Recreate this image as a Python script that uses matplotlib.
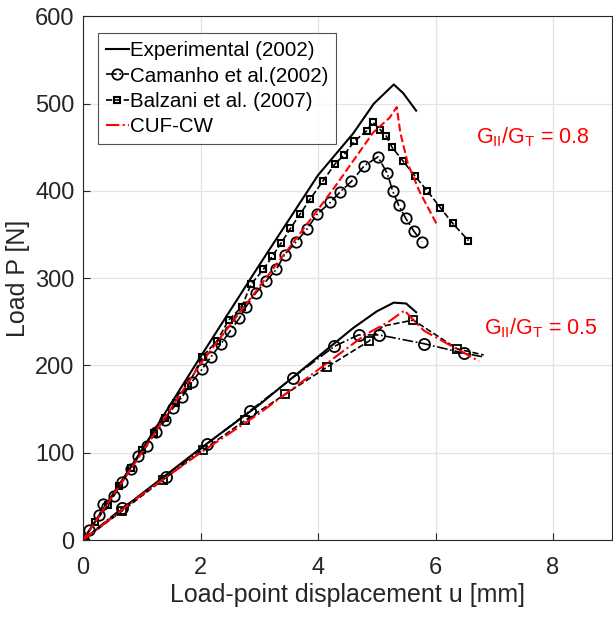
import matplotlib
matplotlib.use("Agg")
import matplotlib.pyplot as plt

plt.rcParams['font.family'] = ['Liberation Sans', 'DejaVu Sans']

# ---- G_II/G_T = 0.8 ----
exp08_u = [0, 1.0, 2.0, 3.0, 4.0, 4.6, 4.95, 5.29, 5.45, 5.67]
exp08_p = [0, 103, 210, 315, 418, 466, 500, 522, 512, 492]

cam08_u = [0, 0.11, 0.28, 0.34, 0.53, 0.66, 0.81, 0.94, 1.09, 1.24, 1.40, 1.53, 1.69,
           1.85, 2.03, 2.18, 2.35, 2.51, 2.66, 2.77, 2.94, 3.12, 3.29, 3.43, 3.62, 3.81,
           3.98, 4.21, 4.38, 4.57, 4.79, 5.02, 5.18, 5.27, 5.37, 5.49, 5.63, 5.77]
cam08_p = [0, 11, 29, 41, 51, 66, 81, 96, 108, 124, 137, 151, 164,
           181, 196, 210, 225, 240, 254, 267, 283, 297, 310, 327, 341, 356,
           373, 387, 399, 411, 429, 439, 420, 400, 384, 369, 354, 342]

bal08_u = [0, 0.21, 0.43, 0.62, 0.82, 1.01, 1.20, 1.40, 1.58, 1.78, 2.03, 2.28, 2.48,
           2.70, 2.86, 3.07, 3.22, 3.37, 3.53, 3.70, 3.87, 4.08, 4.29, 4.44, 4.62, 4.83,
           4.93, 5.06, 5.16, 5.26, 5.45, 5.65, 5.86, 6.08, 6.29, 6.56]
bal08_p = [0, 21, 40, 62, 82, 103, 123, 140, 157, 176, 210, 228, 252,
           267, 293, 310, 325, 340, 357, 374, 391, 411, 431, 441, 457, 469,
           479, 470, 463, 450, 434, 417, 400, 381, 363, 343]

cuf08_u = [0, 1.0, 2.0, 3.0, 3.68, 4.28, 4.94, 5.22, 5.34, 5.40, 5.53, 5.73, 6.02]
cuf08_p = [0, 100, 202, 290, 350, 404, 467, 484, 496, 467, 431, 399, 362]

# ---- G_II/G_T = 0.5 ----
exp05_u = [0, 1.0, 2.0, 3.0, 4.0, 4.6, 5.0, 5.29, 5.5, 5.67]
exp05_p = [0, 53, 105, 155, 210, 243, 262, 272, 271, 261]

cam05_u = [0, 0.67, 1.42, 2.11, 2.84, 3.57, 4.28, 4.69, 5.04, 5.80, 6.49, 6.8]
cam05_p = [0, 37, 72, 110, 148, 186, 222, 235, 235, 225, 214, 210]

bal05_u = [0, 0.66, 1.36, 2.04, 2.76, 3.44, 4.15, 4.87, 5.1, 5.62, 6.37, 6.82]
bal05_p = [0, 33, 69, 103, 137, 167, 198, 228, 245, 252, 219, 212]
bal05_mark = [0, 1, 2, 3, 4, 5, 6, 7, 9, 10]

cuf05_u = [0, 1.0, 2.0, 3.0, 4.0, 4.8, 5.2, 5.47, 5.8, 6.2, 6.74]
cuf05_p = [0, 52, 100, 145, 195, 235, 250, 263, 240, 225, 205]

fig, ax = plt.subplots(figsize=(6.13, 6.23), dpi=100)
fig.subplots_adjust(left=0.1354, right=0.998, bottom=0.1332, top=0.9737)

ax.plot(exp08_u, exp08_p, '-', color='k', lw=1.5, label='Experimental (2002)')
ax.plot(exp05_u, exp05_p, '-', color='k', lw=1.5)

ax.plot(cam08_u, cam08_p, '-.', color='k', lw=1.2, marker='o', ms=7.5, mfc='none',
        mec='k', mew=1.3, label='Camanho et al.(2002)')
ax.plot(cam05_u, cam05_p, '-.', color='k', lw=1.2, marker='o', ms=8, mfc='none',
        mec='k', mew=1.3, markevery=list(range(11)))

ax.plot(bal08_u, bal08_p, '--', color='k', lw=1.2, marker='s', ms=4.5, mfc='none',
        mec='k', mew=1.5, label='Balzani et al. (2007)')
ax.plot(bal05_u, bal05_p, '--', color='k', lw=1.2, marker='s', ms=6, mfc='none',
        mec='k', mew=1.3, markevery=bal05_mark)

ax.plot(cuf08_u, cuf08_p, '--', color='r', lw=1.5)
ax.plot(cuf05_u, cuf05_p, '-.', color='r', lw=1.5, label='CUF-CW')

ax.text(6.69, 461, r'G$_{\mathregular{II}}$/G$_{\mathregular{T}}$ = 0.8', color='r',
        fontsize=15.5, va='center')
ax.text(6.82, 243, r'G$_{\mathregular{II}}$/G$_{\mathregular{T}}$ = 0.5', color='r',
        fontsize=15.5, va='center')

ax.set_xlim(0, 9)
ax.set_ylim(0, 600)
ax.set_xticks([0, 2, 4, 6, 8])
ax.set_yticks([0, 100, 200, 300, 400, 500, 600])
ax.grid(True, color='#e3e3e3', lw=0.9)
ax.set_axisbelow(True)
ax.tick_params(direction='in', labelsize=17, colors='#262626', length=5, pad=6)
ax.tick_params(axis='x', pad=12)
for s in ax.spines.values():
    s.set_color('#262626')
ax.set_xlabel('Load-point displacement u [mm]', fontsize=18, color='#262626', labelpad=3)
ax.set_ylabel('Load P [N]', fontsize=18, color='#262626', labelpad=4)

leg = ax.legend(loc='upper left', bbox_to_anchor=(0.028, 0.968), fontsize=14.8,
                fancybox=False, edgecolor='#262626', handlelength=1.1,
                handletextpad=0.05, borderpad=0.4, labelspacing=0.3,
                borderaxespad=0)
leg.get_frame().set_linewidth(0.8)

fig.savefig('out.png', dpi=100)
